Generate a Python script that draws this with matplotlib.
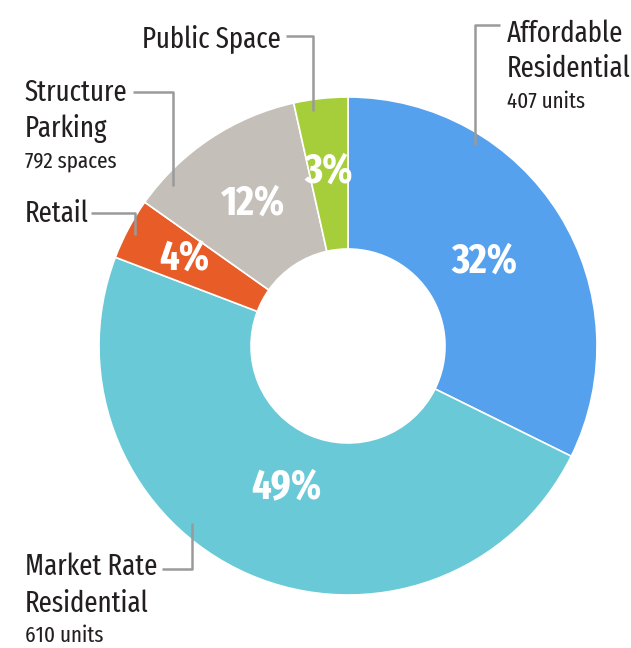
import matplotlib.pyplot as plt
import numpy as np

# ------------------------------------------------------------------ data
categories = ['Affordable Residential', 'Market Rate Residential', 'Retail',
              'Structure Parking', 'Public Space']
shares = [32.3, 48.5, 4.0, 11.7, 3.5]          # wedge sizes
pct_labels = ['32%', '49%', '4%', '12%', '3%']
sub_labels = ['407 units', '610 units', '', '792 spaces', '']
colors = ['#55a1ed', '#69c9d6', '#e85c27', '#c4bfb9', '#a6cd3a']

FONT = ['Fira Sans Extra Condensed', 'Roboto Condensed', 'DejaVu Sans']
INK = '#231f20'
LEAD = '#9a9a9a'

# ------------------------------------------------------------------ figure
fig = plt.figure(figsize=(6.31, 6.48), dpi=100)
ax = fig.add_axes([0, 0, 1, 1])

cx, cy, R = 348, 346, 249
wedges, _ = ax.pie(shares, colors=colors, startangle=-90, counterclock=True,
                   center=(cx, cy), radius=R,
                   wedgeprops=dict(width=152, edgecolor='white', linewidth=1.2))
ax.set_xlim(0, 631)
ax.set_ylim(648, 0)
ax.set_aspect('equal')
ax.axis('off')

# percentage labels inside the ring
pct_r = [161, 154, 186, 171, 176]
for w, txt, r in zip(wedges, pct_labels, pct_r):
    mid = np.deg2rad((w.theta1 + w.theta2) / 2)
    ax.text(cx + r * np.cos(mid), cy + r * np.sin(mid), txt,
            ha='center', va='center', color='white', fontsize=30,
            fontweight='bold', family=FONT)

# outside labels: x, alignment, (line, baseline) pairs, baseline of the small line
layout = {
    'Affordable Residential': (507, 'left', [('Affordable', 42), ('Residential', 77)], 108),
    'Market Rate Residential': (25, 'left', [('Market Rate', 575), ('Residential', 612)], 642),
    'Retail': (25, 'left', [('Retail', 222)], None),
    'Structure Parking': (25, 'left', [('Structure', 101), ('Parking', 137)], 168),
    'Public Space': (281, 'right', [('Public Space', 47)], None),
}
leaders = {
    'Affordable Residential': [(500, 25), (475, 25), (475, 145)],
    'Market Rate Residential': [(162, 569), (192, 569), (192, 523)],
    'Retail': [(91, 213), (135, 213), (135, 235)],
    'Structure Parking': [(133, 92), (173, 92), (173, 186)],
    'Public Space': [(286, 36), (313, 36), (313, 111)],
}

for cat, sub in zip(categories, sub_labels):
    x, ha, lines, sub_y = layout[cat]
    for line, y in lines:
        ax.text(x, y, line, ha=ha, va='baseline', fontsize=21,
                color=INK, family=FONT)
    if sub:
        ax.text(x, sub_y, sub, ha=ha, va='baseline', fontsize=16.5,
                color=INK, family=FONT)
    pts = np.array(leaders[cat])
    ax.plot(pts[:, 0], pts[:, 1], color=LEAD, lw=1.8, solid_capstyle='butt')

fig.savefig('out.png', dpi=100)
